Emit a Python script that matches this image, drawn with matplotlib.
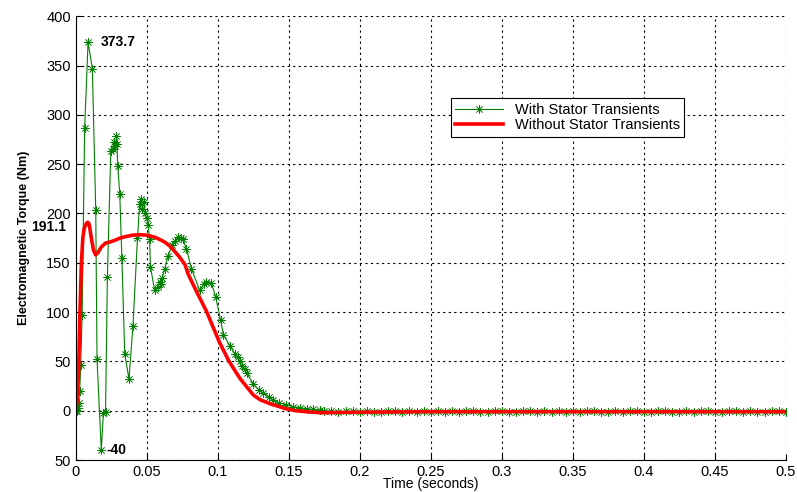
import matplotlib.pyplot as plt

plt.rcParams['font.family'] = ['Liberation Sans', 'DejaVu Sans']

# Torque with stator transients (green, star markers)
t_with = [0.0, 0.0005, 0.001, 0.0015, 0.002, 0.0028, 0.0035, 0.0045, 0.0063, 0.0087,
          0.0117, 0.0141, 0.015, 0.018, 0.0195, 0.021, 0.0223, 0.0247, 0.026, 0.027,
          0.028, 0.0287, 0.029, 0.0296, 0.031, 0.0325, 0.0345, 0.0375, 0.0403, 0.0435,
          0.045, 0.046, 0.047, 0.048, 0.049, 0.050, 0.051, 0.052, 0.0526, 0.0556,
          0.058, 0.059, 0.060, 0.061, 0.0627, 0.065, 0.068, 0.070, 0.072, 0.074,
          0.0755, 0.078, 0.0815, 0.0873, 0.090, 0.092, 0.0955, 0.0986, 0.102, 0.104,
          0.1085, 0.112, 0.114, 0.1155, 0.117, 0.119, 0.1205, 0.125, 0.129, 0.132,
          0.136, 0.139, 0.143, 0.148, 0.153, 0.158, 0.163, 0.167, 0.172,
          0.175, 0.18, 0.185, 0.19, 0.195, 0.2, 0.205, 0.21, 0.215, 0.22,
          0.225, 0.23, 0.235, 0.24, 0.245, 0.25, 0.255, 0.26, 0.265, 0.27,
          0.275, 0.28, 0.285, 0.29, 0.295, 0.3, 0.305, 0.31, 0.315, 0.32,
          0.325, 0.33, 0.335, 0.34, 0.345, 0.35, 0.355, 0.36, 0.365, 0.37,
          0.375, 0.38, 0.385, 0.39, 0.395, 0.4, 0.405, 0.41, 0.415, 0.42,
          0.425, 0.43, 0.435, 0.44, 0.445, 0.45, 0.455, 0.46, 0.465, 0.47,
          0.475, 0.48, 0.485, 0.49, 0.495, 0.5]
te_with = [0, 1, 0, 3, 8, 20, 46, 97, 287, 373.7,
           347, 204, 52, -40, -2, -1, 136, 263, 265, 272,
           268, 279, 270, 248, 220, 155, 58, 32, 86, 175,
           210, 215, 205, 212, 200, 195, 188, 174, 146, 122,
           125, 131, 128, 135, 144, 157, 168, 172, 176, 175,
           174, 164, 144, 122, 128, 131, 130, 115, 92, 77,
           66, 58, 54, 50, 45, 42, 38, 27, 21, 18,
           14, 11, 8, 6, 4, 3, 2, 1.3, 0.5,
           0, -0.5, -1, -0.8, -0.6, -1, -0.7, -0.9, -1, -0.6,
           -0.8, -1, -0.7, -0.9, -0.8, -1, -0.6, -0.9, -0.8, -1,
           -0.7, -0.8, -1, -0.9, -0.7, -0.8, -1, -0.9, -0.8, -0.7,
           -1, -0.8, -0.9, -0.7, -1, -0.8, -0.9, -0.8, -0.7, -1,
           -0.9, -0.8, -1, -0.7, -0.8, -0.9, -1, -0.8, -0.7, -0.9,
           -1, -0.8, -0.9, -0.7, -0.8, -1, -0.9, -0.8, -0.7, -1,
           -0.8, -0.9, -1, -0.8, -0.7, -0.9]

# Torque without stator transients (red)
t_without = [0, 0.001, 0.002, 0.003, 0.004, 0.005, 0.006, 0.0075, 0.0085, 0.0095,
             0.011, 0.0125, 0.014, 0.0155, 0.018, 0.021, 0.024, 0.028, 0.031, 0.035,
             0.040, 0.045, 0.050, 0.0556, 0.060, 0.0627, 0.067, 0.073, 0.077, 0.079,
             0.085, 0.092, 0.099, 0.101, 0.108, 0.1155, 0.125, 0.13, 0.137, 0.148,
             0.155, 0.162, 0.172, 0.2, 0.25, 0.3, 0.4, 0.5]
te_without = [0, 10, 40, 100, 150, 175, 185, 190, 191.1, 189,
              175, 163, 158, 160, 166, 170, 171, 173, 175, 176.5,
              178, 178.5, 178, 176, 173, 171, 166, 156, 148, 139,
              121, 101, 77, 70, 50, 33, 16, 11, 7, 2,
              0, -1, -2, -1.5, -1, -1, -1, -1]

x_ticks = [0, 0.05, 0.1, 0.15, 0.2, 0.25, 0.3, 0.35, 0.4, 0.45, 0.5]
x_labels = ['0', '0.05', '0.1', '0.15', '0.2', '0.25', '0.3', '0.35', '0.4', '0.45', '0.5']
y_ticks = [-50, 0, 50, 100, 150, 200, 250, 300, 350, 400]
y_labels = ['50', '0', '50', '100', '150', '200', '250', '300', '350', '400']

fig = plt.figure(figsize=(7.97, 4.92), dpi=100)
ax = fig.add_axes([0.095, 0.065, 0.891, 0.902])

ax.plot(t_with, te_with, color='#008000', linewidth=0.8,
        marker=(8, 2, 0), markersize=6, markeredgewidth=0.5,
        label='With Stator Transients')
ax.plot(t_without, te_without, color='#ff0000', linewidth=2.6,
        label='Without Stator Transients')

ax.set_xlim(0, 0.5)
ax.set_ylim(-50, 400)
ax.set_xticks(x_ticks)
ax.set_xticklabels(x_labels)
ax.set_yticks(y_ticks)
ax.set_yticklabels(y_labels)
ax.tick_params(direction='in', length=4, labelsize=10.5, colors='black')
ax.grid(True, color='black', linestyle=(0, (2, 3)), linewidth=0.8)
ax.spines['top'].set_visible(False)
ax.spines['right'].set_visible(False)

ax.set_xlabel('Time (seconds)', fontsize=10, labelpad=-1)
ax.set_ylabel('Electromagnetic Torque (Nm)', fontsize=9, fontweight='bold', labelpad=12)

ax.text(0.0175, 373.7, '373.7', fontsize=10, fontweight='bold', va='center')
ax.text(-0.007, 186, '191.1', fontsize=10, fontweight='bold', va='center', ha='right')
ax.text(0.022, -40, '-40', fontsize=10, fontweight='bold', va='center')

leg = ax.legend(loc='upper left', bbox_to_anchor=(0.528, 0.815), fontsize=10.5,
                handlelength=3.3, fancybox=False, framealpha=1, edgecolor='black',
                borderpad=0.3, labelspacing=0.1, borderaxespad=0)
leg.get_frame().set_linewidth(0.8)

fig.savefig('out.png', dpi=100)
